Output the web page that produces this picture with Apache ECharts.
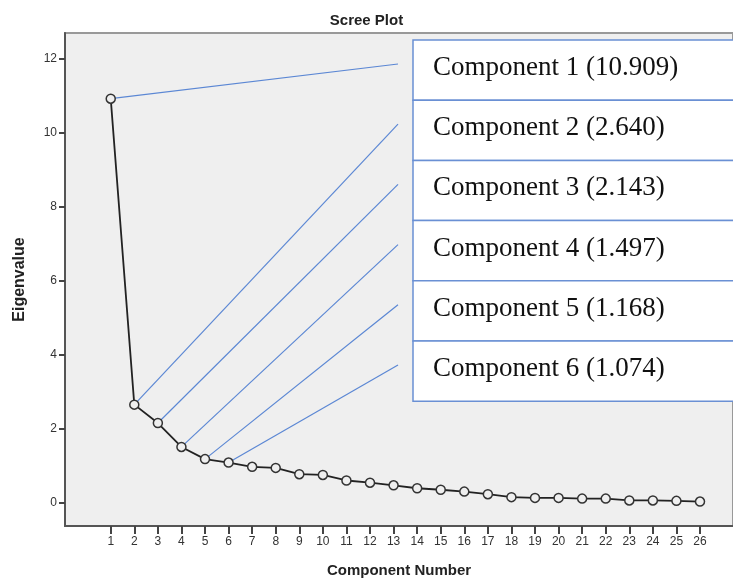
<!DOCTYPE html>
<html>
<head>
<meta charset="utf-8">
<script src="https://cdn.jsdelivr.net/npm/echarts@6/dist/echarts.min.js"></script>
<style>html,body{margin:0;padding:0;background:#fff;}#c{width:733px;height:581px;}</style>
</head>
<body>
<div id="c"></div>
<script>
// ---- data ----
const components = [1,2,3,4,5,6,7,8,9,10,11,12,13,14,15,16,17,18,19,20,21,22,23,24,25,26];
const eigenvalues = [10.909,2.640,2.143,1.497,1.168,1.074,0.96,0.93,0.76,0.74,0.59,0.53,0.46,0.38,0.34,0.29,0.22,0.14,0.12,0.12,0.10,0.10,0.05,0.05,0.04,0.02];
const yTicks = [0,2,4,6,8,10,12];
const xTicks = components;
const annotated = [1,2,3,4,5,6];
const annotationLabels = ['Component 1 (10.909)','Component 2 (2.640)','Component 3 (2.143)','Component 4 (1.497)','Component 5 (1.168)','Component 6 (1.074)'];

const chart = echarts.init(document.getElementById('c'), null, {renderer:'canvas'});
const sansFont = 'Liberation Sans, Arial, sans-serif';
const option = {
  animation:false,
  backgroundColor:'#fff',
  title:{text:'Scree Plot',left:'center',top:8,textStyle:{fontFamily:sansFont,fontSize:15,fontWeight:'bold',color:'#222'}},
  grid:{left:65,top:33,right:0,bottom:55,show:true,outerBoundsMode:'none',containLabel:false,
    backgroundColor:'#efefef',borderColor:'#999',borderWidth:2},
  xAxis:{type:'value',min:-0.94,max:27.4,
    name:'Component Number',nameLocation:'middle',nameGap:37,
    nameTextStyle:{fontFamily:sansFont,fontSize:15,fontWeight:'bold',color:'#222'},
    axisLine:{show:true,onZero:false,lineStyle:{color:'#555',width:2}},
    axisTick:{show:true,length:8,customValues:xTicks,lineStyle:{color:'#444',width:2}},
    axisLabel:{customValues:xTicks,margin:10,fontFamily:sansFont,fontSize:12,color:'#333'},
    splitLine:{show:false}},
  yAxis:{type:'value',min:-0.64,max:12.684,
    name:'Eigenvalue',nameLocation:'middle',nameGap:37,nameRotate:90,
    nameTextStyle:{fontFamily:sansFont,fontSize:16,fontWeight:'bold',color:'#222'},
    axisLine:{show:true,onZero:false,lineStyle:{color:'#555',width:2}},
    axisTick:{show:true,length:6,customValues:yTicks,lineStyle:{color:'#444',width:2}},
    axisLabel:{customValues:yTicks,margin:8,fontFamily:sansFont,fontSize:12,color:'#333'},
    splitLine:{show:false}},
  series:[{type:'line',data:components.map((c,i)=>[c,eigenvalues[i]]),
    symbol:'circle',symbolSize:9,z:3,
    lineStyle:{color:'#222',width:1.8},
    itemStyle:{color:'#efefef',borderColor:'#333',borderWidth:1.5}}]
};
chart.setOption(option);

// annotation box and leader lines
const boxX = 413, boxY = 40, rowH = 60.2, boxW = 340, lineEndX = 398;
const graphics = [];
annotated.forEach((c,i)=>{
  const p = chart.convertToPixel({gridIndex:0},[c,eigenvalues[c-1]]);
  graphics.push({type:'line',z:1,shape:{x1:p[0],y1:p[1],x2:lineEndX,y2:boxY+i*rowH+24},
    style:{stroke:'#5b87d4',lineWidth:1.2}});
  graphics.push({type:'rect',z:10,shape:{x:boxX,y:boxY+i*rowH,width:boxW,height:rowH},
    style:{fill:'#fff',stroke:'#6a90d4',lineWidth:1.5}});
  graphics.push({type:'text',z:11,x:boxX+20,y:boxY+i*rowH+28,
    style:{text:annotationLabels[i],font:'27px "Liberation Serif", "Times New Roman", serif',fill:'#111',verticalAlign:'middle',align:'left'}});
});
chart.setOption({graphic:graphics});
</script>
</body>
</html>
